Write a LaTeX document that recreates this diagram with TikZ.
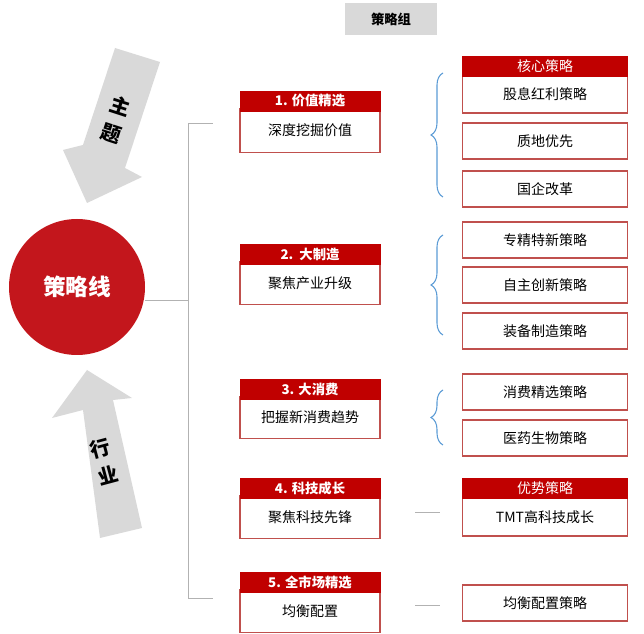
\documentclass[tikz,border=0pt]{standalone}
\usepackage{fontspec}
\setmainfont{Noto Sans CJK SC}
\usepackage{xcolor}
\usetikzlibrary{shapes,arrows,decorations.pathreplacing}
\definecolor{hdred}{HTML}{C00000}
\definecolor{bdred}{HTML}{C0504D}
\definecolor{ballred}{HTML}{C3161C}
\definecolor{arrgrey}{HTML}{D9D9D9}
\definecolor{brblue}{HTML}{5B9BD5}
\tikzset{
  hdbox/.style={fill=hdred,draw=hdred,text=white,font=\bfseries\fontsize{10}{12}\selectfont,inner sep=0pt},
  bodybox/.style={draw=bdred,line width=1pt,fill=white,font=\fontsize{10.5}{12}\selectfont,inner sep=0pt},
  grline/.style={draw=black!30,line width=0.6pt},
  brce/.style={draw=brblue,line width=0.8pt,decorate,decoration={brace,amplitude=9pt}}
}
\begin{document}
\begin{tikzpicture}[x=0.75pt,y=0.75pt,yscale=-1,xscale=1]
\useasboundingbox (0,0) rectangle (644,634);
% title
\node[fill=arrgrey,minimum width=69pt,minimum height=24pt,font=\bfseries\fontsize{10}{12}\selectfont,inner sep=0pt] (zu) at (391,19) {策略组};
% arrows
\fill[arrgrey] (115,48) -- (160,62) -- (125,168) -- (142,177) -- (87,203) -- (63,150) -- (83,145) -- cycle;
\node[font=\bfseries\fontsize{15}{21}\selectfont,align=center,rotate=-18] (zt) at (116,120) {主\\题};
\fill[arrgrey] (87,370) -- (132,398) -- (113,400) -- (142,528) -- (100,538) -- (83,410) -- (52,418) -- cycle;
\node[font=\bfseries\fontsize{15}{21}\selectfont,align=center,rotate=15] (hy) at (104,462) {行\\业};
% centre ball
\node[circle,fill=ballred,minimum size=102pt,text=white,font=\bfseries\fontsize{17}{20}\selectfont] (ball) at (77,287) {策略线};
% trunk
\coordinate (tr) at (188,300);
\coordinate (tt) at (188,123);
\coordinate (tb) at (188,598);
\draw[grline] (ball.east) ++(0,13) -- (tr);
\draw[grline] (tt) -- (tb);
\draw[grline] (tt) -- ++(25,0);
\draw[grline] (tb) -- ++(25,0);
% left boxes
\foreach \n/\yh/\yb/\hd/\bd in {a/91/150/1. 价值精选/深度挖掘价值, b/244/302/2.\ \ 大制造/聚焦产业升级, c/379/436/3. 大消费/把握新消费趋势, d/478/536/4. 科技成长/聚焦科技先锋, e/572/630/5. 全市场精选/均衡配置}{
  \node[bodybox,minimum width=105pt,minimum height={(\yb-\yh-15)*0.75pt}] (\n) at (310,{(\yh+20+\yb)/2}) {\bd};
  \node[hdbox,minimum width=105pt,minimum height=15pt] (\n h) at (310,\yh+10) {\hd};
}
% right boxes
\foreach \n/\yt/\yb/\bd in {r1/76/113/股息红利策略, r2/123/159/质地优先, r3/171/207/国企改革, r4/222/258/专精特新策略, r5/267/303/自主创新策略, r6/313/349/装备制造策略, r7/374/410/消费精选策略, r8/420/456/医药生物策略, r9/498/536/TMT高科技成长, r10/585/621/均衡配置策略}{
  \node[bodybox,minimum width=124pt,minimum height={(\yb-\yt)*0.75pt}] (\n) at (545,{(\yt+\yb)/2}) {\bd};
}
\node[hdbox,minimum width=124pt,minimum height=15pt,font=\fontsize{10.5}{12}\selectfont] (k1) at (545,66) {核心策略};
\node[hdbox,minimum width=124pt,minimum height=15pt,font=\fontsize{10.5}{12}\selectfont] (k2) at (545,488) {优势策略};
% braces
\draw[brce] (443,197) -- (443,73);
\draw[brce] (443,335) -- (443,235);
\draw[brce] (443,445) -- (443,390);
\draw[grline] (415,512) -- (440,512);
\draw[grline] (415,605) -- (440,605);
\end{tikzpicture}
\end{document}
